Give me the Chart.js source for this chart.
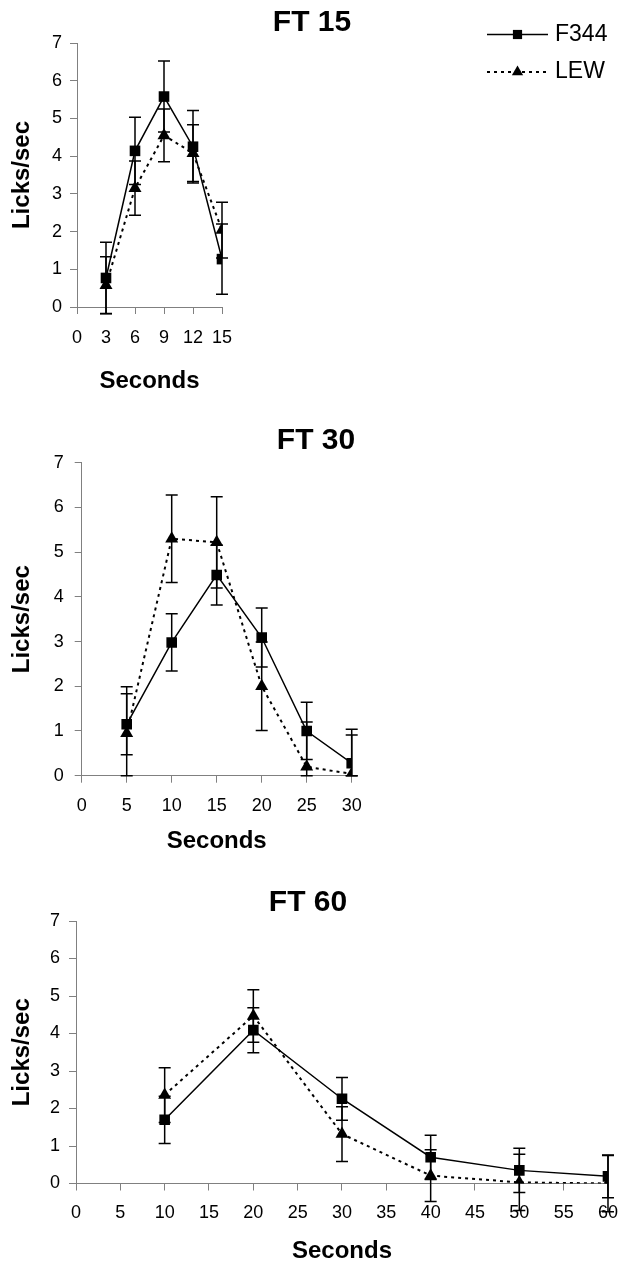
<!DOCTYPE html>
<html>
<head>
<meta charset="utf-8">
<script src="https://cdn.jsdelivr.net/npm/chart.js@4"></script>
<style>
  body { margin: 0; background: #fff; }
  .wrap { position: relative; width: 630px; height: 1266px; }
  canvas { position: absolute; left: 0; }
</style>
</head>
<body>
<div class="wrap">
  <canvas id="ft15" width="630" height="400" style="top:0px"></canvas>
  <canvas id="ft30" width="630" height="460" style="top:410px"></canvas>
  <canvas id="ft60" width="630" height="386" style="top:880px"></canvas>
</div>
<script>
// FT 15
const ft15Seconds = [3, 6, 9, 12, 15];
const ft15F344 = [0.77, 4.14, 5.58, 4.25, 1.27];
const ft15F344Err = [0.95, 0.89, 0.94, 0.96, 0.93];
const ft15Lew = [0.58, 3.15, 4.55, 4.08, 2.04];
const ft15LewErr = [0.75, 0.72, 0.70, 0.75, 0.74];

// FT 30
const ft30Seconds = [5, 10, 15, 20, 25, 30];
const ft30F344 = [1.15, 2.98, 4.49, 3.09, 1.00, 0.28];
const ft30F344Err = [0.68, 0.64, 0.67, 0.66, 0.64, 0.76];
const ft30Lew = [0.95, 5.30, 5.22, 2.00, 0.20, 0.04];
const ft30LewErr = [1.04, 0.98, 1.02, 0.99, 1.00, 0.87];

// FT 60
const ft60Seconds = [10, 20, 30, 40, 50, 60];
const ft60F344 = [1.70, 4.09, 2.26, 0.70, 0.35, 0.19];
const ft60F344Err = [0.63, 0.60, 0.57, 0.59, 0.59, 0.57];
const ft60Lew = [2.36, 4.47, 1.32, 0.21, 0.03, 0.00];
const ft60LewErr = [0.73, 0.70, 0.73, 0.69, 0.75, 0.75];

const seriesNames = ['F344', 'LEW'];
const yTicks = { min: 0, max: 7, step: 1 };

const FONT = "'Liberation Sans', Arial, sans-serif";
const AXIS = '#808080';

// vertical error bars with caps, drawn under the markers
const errorBars = {
  id: 'errorBars',
  beforeDatasetsDraw(chart, args, opts) {
    const ctx = chart.ctx;
    const y = chart.scales.y;
    ctx.save();
    ctx.strokeStyle = '#000';
    ctx.lineWidth = 1.5;
    chart.data.datasets.forEach((ds, i) => {
      chart.getDatasetMeta(i).data.forEach((pt, j) => {
        const v = ds.data[j].y, e = ds.errors[j];
        let lo = v - e;
        if (opts.clipAtZero) lo = Math.max(lo, 0);
        const top = y.getPixelForValue(v + e);
        const bot = y.getPixelForValue(lo);
        ctx.beginPath();
        ctx.moveTo(pt.x, top); ctx.lineTo(pt.x, bot);
        ctx.moveTo(pt.x - 6, top); ctx.lineTo(pt.x + 6, top);
        ctx.moveTo(pt.x - 6, bot); ctx.lineTo(pt.x + 6, bot);
        ctx.stroke();
      });
    });
    ctx.restore();
  }
};

function marker(ctx, style, x, y, r) {
  ctx.beginPath();
  if (style === 'rect') {
    const s = r * Math.SQRT1_2;
    ctx.rect(x - s, y - s, 2 * s, 2 * s);
  } else {
    let a = 0;
    ctx.moveTo(x + Math.sin(a) * r, y - Math.cos(a) * r);
    a += Math.PI * 2 / 3;
    ctx.lineTo(x + Math.sin(a) * r, y - Math.cos(a) * r);
    a += Math.PI * 2 / 3;
    ctx.lineTo(x + Math.sin(a) * r, y - Math.cos(a) * r);
    ctx.closePath();
  }
  ctx.fill();
}

// panel title and the line+marker legend
const panelText = {
  id: 'panelText',
  afterDraw(chart, args, opts) {
    const ctx = chart.ctx;
    ctx.save();
    ctx.fillStyle = '#000';
    ctx.font = 'bold 30px ' + FONT;
    ctx.textAlign = 'center';
    ctx.textBaseline = 'middle';
    ctx.fillText(opts.title, opts.x, opts.y);
    if (opts.legend) {
      chart.data.datasets.forEach((ds, i) => {
        const ly = 34.5 + i * 37.5;
        ctx.strokeStyle = '#000';
        ctx.lineWidth = ds.borderWidth;
        ctx.setLineDash(ds.borderDash || []);
        ctx.beginPath();
        ctx.moveTo(487, ly); ctx.lineTo(548, ly);
        ctx.stroke();
        ctx.setLineDash([]);
        marker(ctx, ds.pointStyle, 517.5, ly, 6.5);
        ctx.font = '23px ' + FONT;
        ctx.textAlign = 'left';
        ctx.fillText(ds.label, 555, ly);
      });
    }
    ctx.restore();
  }
};

function toPoints(xs, ys) {
  return xs.map((x, i) => ({ x: x, y: ys[i] }));
}

function makePanel(id, p) {
  return new Chart(document.getElementById(id), {
    type: 'line',
    data: {
      datasets: [{
        label: seriesNames[0],
        data: toPoints(p.seconds, p.f344),
        errors: p.f344Err,
        borderColor: '#000',
        backgroundColor: '#000',
        borderWidth: 1.5,
        pointStyle: 'rect',
        pointRadius: 7.5,
        pointBorderWidth: 0,
        tension: 0,
        order: 1
      }, {
        label: seriesNames[1],
        data: toPoints(p.seconds, p.lew),
        errors: p.lewErr,
        borderColor: '#000',
        backgroundColor: '#000',
        borderWidth: 2,
        borderDash: [3, 4],
        pointStyle: 'triangle',
        pointRadius: 7.5,
        pointBorderWidth: 0,
        tension: 0,
        order: 0
      }]
    },
    options: {
      responsive: false,
      animation: false,
      devicePixelRatio: 1,
      layout: { padding: { left: 0, top: p.top, right: p.right, bottom: 0 } },
      plugins: {
        legend: { display: false },
        tooltip: { enabled: false },
        errorBars: { clipAtZero: p.clip },
        panelText: { title: p.title, x: p.titleX, y: p.titleY, legend: p.legend }
      },
      scales: {
        x: {
          type: 'linear',
          min: 0,
          max: p.xMax,
          afterFit: s => { s.height = p.xHeight; },
          ticks: {
            stepSize: p.xStep,
            padding: p.xTickPad,
            color: '#000',
            font: { family: FONT, size: 18 },
            maxRotation: 0
          },
          grid: { drawOnChartArea: false, tickLength: 7, color: AXIS },
          border: { color: AXIS, width: 1 },
          title: {
            display: true,
            text: 'Seconds',
            color: '#000',
            font: { family: FONT, size: 24, weight: 'bold' },
            padding: { top: 0, bottom: p.xTitlePad }
          }
        },
        y: {
          min: yTicks.min,
          max: yTicks.max,
          afterFit: s => { s.width = p.yWidth; },
          ticks: {
            stepSize: yTicks.step,
            padding: p.yTickPad,
            color: '#000',
            font: { family: FONT, size: 18 }
          },
          grid: { drawOnChartArea: false, tickLength: 7, color: AXIS },
          border: { color: AXIS, width: 1 },
          title: {
            display: true,
            text: 'Licks/sec',
            color: '#000',
            font: { family: FONT, size: 24, weight: 'bold' },
            padding: { top: 8, bottom: 0 }
          }
        }
      }
    },
    plugins: [errorBars, panelText]
  });
}

makePanel('ft15', {
  seconds: ft15Seconds, f344: ft15F344, f344Err: ft15F344Err, lew: ft15Lew, lewErr: ft15LewErr,
  title: 'FT 15', titleX: 312, titleY: 23, legend: true, clip: false,
  top: 43, right: 408, yWidth: 77, xHeight: 93,
  xMax: 15, xStep: 3, xTickPad: 13, xTitlePad: 4, yTickPad: 8
});

makePanel('ft30', {
  seconds: ft30Seconds, f344: ft30F344, f344Err: ft30F344Err, lew: ft30Lew, lewErr: ft30LewErr,
  title: 'FT 30', titleX: 316, titleY: 31, legend: false, clip: true,
  top: 52.7, right: 278.3, yWidth: 81.7, xHeight: 94.3,
  xMax: 30, xStep: 5, xTickPad: 13, xTitlePad: 14, yTickPad: 11
});

makePanel('ft60', {
  seconds: ft60Seconds, f344: ft60F344, f344Err: ft60F344Err, lew: ft60Lew, lewErr: ft60LewErr,
  title: 'FT 60', titleX: 308, titleY: 23, legend: false, clip: false,
  top: 41, right: 17, yWidth: 76, xHeight: 82.5,
  xMax: 60, xStep: 5, xTickPad: 12, xTitlePad: 0, yTickPad: 9
});
</script>
</body>
</html>
